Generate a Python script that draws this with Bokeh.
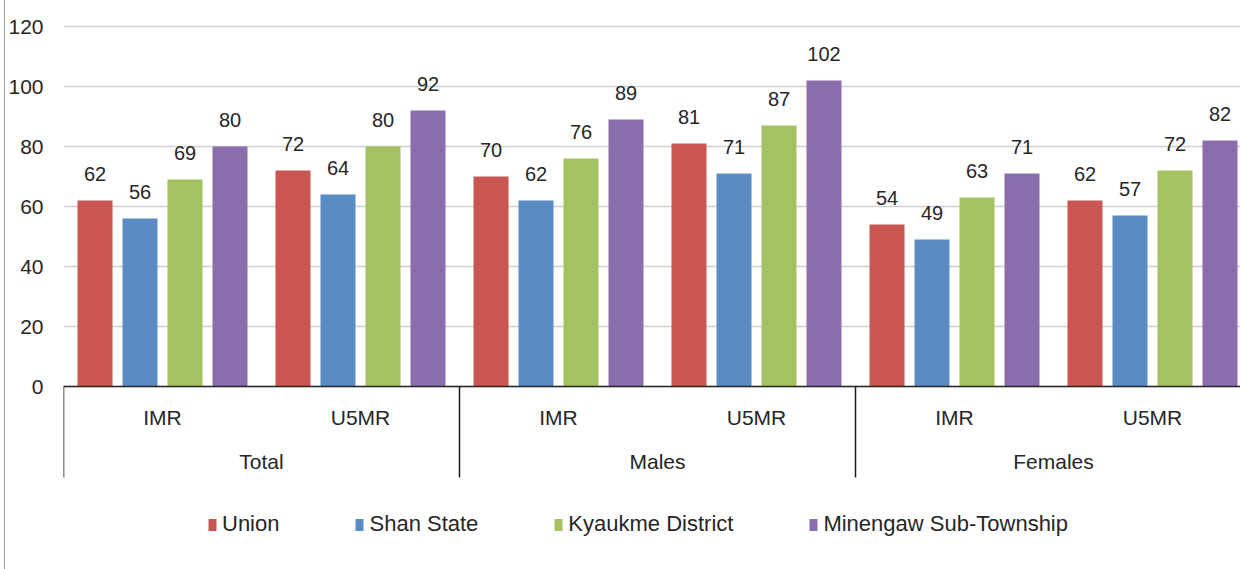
from bokeh.plotting import figure
from bokeh.models import ColumnDataSource, Range1d, FixedTicker, Legend, LegendItem
from bokeh.core.properties import value
from bokeh.embed import file_html
from bokeh.resources import INLINE

groups = ["Total", "Males", "Females"]
subgroups = ["IMR", "U5MR"]
series = ["Union", "Shan State", "Kyaukme District", "Minengaw Sub-Township"]
colors = ["#C95651", "#5B8BC5", "#A4C263", "#8A6DAC"]
# values per series, ordered: Total IMR, Total U5MR, Males IMR, Males U5MR, Females IMR, Females U5MR
union = [62, 72, 70, 81, 54, 62]
shan = [56, 64, 62, 71, 49, 57]
kyaukme = [69, 80, 76, 87, 63, 72]
minengaw = [80, 92, 89, 102, 71, 82]
values = [union, shan, kyaukme, minengaw]
yticks = [0, 20, 40, 60, 80, 100, 120]

FONT = "Liberation Sans"
TXT = "#262626"
GW = 396.0       # group width (x units)
SW = GW / 2      # subgroup width
BAR_STEP = 45.0
BAR_W = 35.0

p = figure(width=1240, height=569, output_backend="svg", toolbar_location=None,
           x_range=Range1d(0, 1177), y_range=Range1d(-61, 128.67),
           x_axis_type=None, min_border_left=63, min_border_right=0,
           min_border_top=0, min_border_bottom=0)
p.outline_line_color = None
p.border_fill_alpha = 0
p.styles = {"background": "linear-gradient(to right, white 4px, #a6a6a6 4px, #a6a6a6 5px, white 5px)"}
p.xgrid.visible = False
p.ygrid.ticker = FixedTicker(ticks=yticks)
p.ygrid.grid_line_color = "#d0d0d0"
p.ygrid.grid_line_width = 1.5

ax = p.yaxis[0]
ax.ticker = FixedTicker(ticks=yticks)
ax.axis_line_color = None
ax.major_tick_line_color = None
ax.minor_tick_line_color = None
ax.major_tick_out = 0
ax.major_tick_in = 0
ax.major_label_standoff = 20
ax.major_label_text_font = FONT
ax.major_label_text_font_size = "21px"
ax.major_label_text_color = TXT

ncat = len(groups) * len(subgroups)
centers = [(i // 2) * GW + SW / 2 + (i % 2) * SW for i in range(ncat)]

items = []
for k, (name, vals, col) in enumerate(zip(series, values, colors)):
    xs = [c + (k - 1.5) * BAR_STEP for c in centers]
    src = ColumnDataSource(dict(x=xs, top=vals, lab=[str(v) for v in vals]))
    r = p.vbar(x="x", top="top", bottom=0, width=BAR_W, source=src,
               fill_color=col, line_color=None)
    p.text(x="x", y="top", text="lab", source=src, text_align="center",
           text_baseline="alphabetic", y_offset=-27, text_font=value(FONT),
           text_font_size="20px", text_color=TXT)
    items.append(LegendItem(label=name, renderers=[r]))

# x-axis baseline and separators
p.segment(x0=[0], y0=[0], x1=[1177], y1=[0], line_color="#262626", line_width=1.5)
sep_x = [g * GW for g in range(len(groups) + 1)]
p.segment(x0=sep_x, y0=[0] * len(sep_x), x1=sep_x, y1=[-30.3] * len(sep_x),
          line_color="#1a1a1a", line_width=1.5)

# category labels
sub_labels = [subgroups[i % 2] for i in range(ncat)]
p.text(x=centers, y=[-10.3] * ncat, text=sub_labels, text_align="center",
       text_baseline="middle", text_font=value(FONT), text_font_size="21px",
       text_color=TXT)
gcent = [g * GW + GW / 2 for g in range(len(groups))]
p.text(x=gcent, y=[-25] * len(groups), text=groups, text_align="center",
       text_baseline="middle", text_font=value(FONT), text_font_size="21px",
       text_color=TXT)

legend = Legend(items=items, location=(144, 32), orientation="horizontal",
                glyph_width=10, glyph_height=15, label_standoff=5, spacing=75,
                padding=0, margin=0, border_line_color=None,
                background_fill_alpha=0, label_text_font=FONT,
                label_text_font_size="22px", label_text_color=TXT,
                label_height=15)
p.add_layout(legend)

open("out.html", "w").write(file_html(p, INLINE))
